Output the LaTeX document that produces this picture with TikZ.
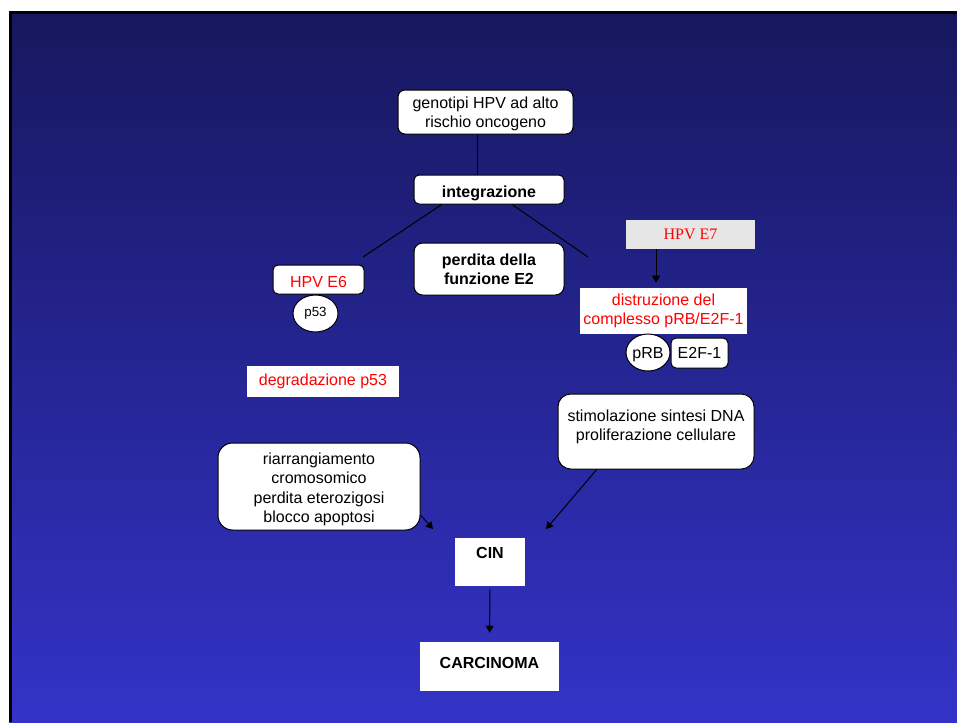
\documentclass[tikz,border=0pt]{standalone}
\usepackage{fontspec}
\setmainfont{Liberation Sans}
\newfontfamily\timesfont{Liberation Serif}
\usetikzlibrary{shapes.geometric,arrows.meta,calc}
\definecolor{bgtop}{RGB}{23,23,94}
\definecolor{bgbot}{RGB}{51,51,200}
\definecolor{hpvred}{RGB}{255,0,0}
\definecolor{lightgrey}{RGB}{230,230,230}

\begin{document}
\begin{tikzpicture}[x=0.75pt,y=-0.75pt]

\tikzstyle{every node}=[font=\fontsize{12}{14.5}\selectfont,inner sep=0pt]
\tikzstyle{boldtxt}=[font=\fontsize{12}{14.5}\selectfont\bfseries]
\tikzstyle{rbox}=[rectangle,draw=black,line width=0.75pt,fill=white,align=center]
\tikzstyle{wbox}=[rectangle,fill=white,align=center]
\tikzstyle{oval}=[ellipse,draw=black,line width=0.75pt,fill=white]
\tikzstyle{link}=[draw=black,line width=0.75pt]
\tikzstyle{arr}=[link,-{Triangle[length=5.25pt,width=6pt]}]

% slide background
\useasboundingbox (0,0) rectangle (957,722);
\fill[white] (0,0) rectangle (957,722);
\shade[top color=bgtop,bottom color=bgbot] (9,11) rectangle (957,722);
\draw[line width=2.25pt] (10.5,722) -- (10.5,12.5) -- (957,12.5);

\node[rbox,minimum width=131.25pt,minimum height=33pt,rounded corners=5.25pt] (gen) at (485.5,112) {\rule{0pt}{11pt}genotipi HPV ad alto\\rischio oncogeno};
\node[rbox,boldtxt,minimum width=112.5pt,minimum height=21.75pt,rounded corners=3.75pt,text height=14pt,text depth=2.5pt] (integ) at (489,189.5) {integrazione};
\node[rbox,boldtxt,minimum width=112.5pt,minimum height=39pt,rounded corners=6.5pt] (perd) at (489,269) {perdita della\\funzione E2};

\node[rbox,text=hpvred,minimum width=68.25pt,minimum height=21.75pt,rounded corners=3.75pt,text height=11.6pt,text depth=0pt] (e6) at (318.5,279.5) {HPV E6};
\node[oval,font=\fontsize{10}{12}\selectfont,minimum width=33.75pt,minimum height=27.75pt] (p53) at (315.5,313.5) {p53};
\node[wbox,text=hpvred,minimum width=114pt,minimum height=23.25pt] (degr) at (323,381.5) {degradazione p53};

\node[rectangle,fill=lightgrey,text=hpvred,font=\timesfont\fontsize{12}{14.5}\selectfont,minimum width=96.75pt,minimum height=21.75pt] (e7) at (690.5,234.5) {HPV E7};
\node[wbox,text=hpvred,minimum width=125.25pt,minimum height=34.5pt] (distr) at (663.5,311) {distruzione del\\complesso pRB/E2F-1};
\node[oval,minimum width=33pt,minimum height=27.75pt,text height=8.6pt,text depth=0pt] (prb) at (648,352.5) {pRB};
\node[rbox,minimum width=42.75pt,minimum height=22.5pt,rounded corners=3.75pt] (e2f) at (699.5,353) {E2F-1};

\node[rbox,minimum width=147pt,minimum height=56.25pt,rounded corners=9.5pt] (stim) at (656,431.5) {stimolazione sintesi DNA\\proliferazione cellulare\\[-9pt]\strut};
\node[rbox,minimum width=151.5pt,minimum height=65.25pt,rounded corners=11pt] (riarr) at (319,486.5) {\rule{0pt}{13pt}riarrangiamento\\cromosomico\\perdita eterozigosi\\blocco apoptosi};

\node[wbox,boldtxt,minimum width=52.5pt,minimum height=36pt,text height=9pt,text depth=13.9pt] (cin) at (490,562) {CIN};
\node[wbox,boldtxt,minimum width=104.25pt,minimum height=36.75pt,text height=8.6pt,text depth=5.2pt] (carc) at (489.5,666.5) {CARCINOMA};

% connectors
\coordinate (tap) at (477,150);
\coordinate (e6end) at (363,257);
\coordinate (e7end) at (588,257);
\coordinate (e7x) at (656,240);
\coordinate (riarrend) at (433,529);
\coordinate (stimend) at (546,529);

\draw[link] (gen.south -| tap) -- (integ.north -| tap);
\draw[link] ($(integ.south west)!0.187!(integ.south east)$) -- (e6end);
\draw[link] ($(integ.south west)!0.653!(integ.south east)$) -- (e7end);
\draw[arr,shorten >=3.75pt] (e7.south -| e7x) -- (distr.north -| e7x);
\draw[arr] ($(riarr.east)+(0,28.5)$) -- (riarrend);
\draw[arr] ($(stim.south west)!0.199!(stim.south east)$) -- (stimend);
\draw[arr,shorten <=2.25pt,shorten >=6.75pt] (cin.south) -- (carc.north);

\end{tikzpicture}
\end{document}
